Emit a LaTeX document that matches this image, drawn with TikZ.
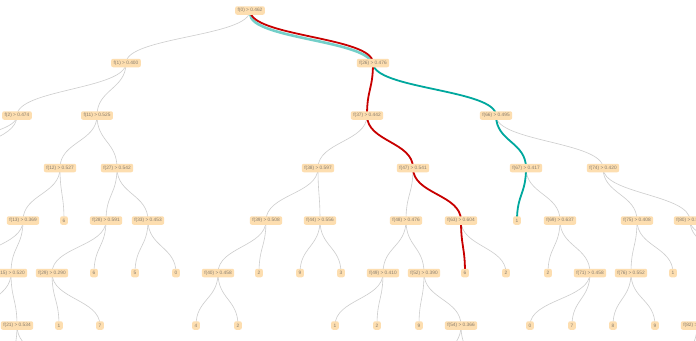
\documentclass[tikz,border=0pt]{standalone}
\usepackage{fontspec}
\setmainfont{Liberation Sans}
\usetikzlibrary{calc,backgrounds}
\definecolor{boxfill}{RGB}{253,222,176}
\definecolor{boxtext}{RGB}{135,125,112}
\definecolor{edgegray}{RGB}{205,205,205}
\definecolor{hired}{RGB}{200,0,0}
\definecolor{hiteal}{RGB}{0,168,158}
\tikzset{
  tn/.style={fill=boxfill, rounded corners=2pt, text=boxtext, font=\fontsize{4.8}{5}\selectfont,
    inner xsep=2.5pt, inner ysep=0pt, minimum height=8.5pt},
  edge/.style={draw=edgegray, line width=0.6pt},
  redpath/.style={draw=hired, line width=1.8pt},
  tealpath/.style={draw=hiteal, line width=1.8pt},
  tealglow/.style={draw=hiteal, line width=2.6pt, opacity=0.55}
}
\newcommand\lk[3][edge]{%
  \coordinate (mm) at ($(#2.center)!0.5!(#3.center)$);
  \draw[#1] (#2.center) .. controls (#2 |- mm) and (#3 |- mm) .. (#3.center);}
\begin{document}
\begin{tikzpicture}[x=1pt,y=-1pt]
\useasboundingbox (0,0) rectangle (696,340);
% row 0
\node[tn] (n0) at (250,10.5) {f(0) > 0.462};
% row 1
\node[tn] (n1) at (126,63) {f(1) > 0.400};
\node[tn] (n26) at (373,63) {f(26) > 0.476};
% row 2
\node[tn] (n2) at (17,115.5) {f(2) > 0.474};
\node[tn] (n11) at (97,115.5) {f(11) > 0.525};
\node[tn] (n37) at (367,115.5) {f(37) > 0.442};
\node[tn] (n66) at (496,115.5) {f(66) > 0.495};
% row 3
\node[tn] (n12) at (60,168) {f(12) > 0.527};
\node[tn] (n27) at (117,168) {f(27) > 0.542};
\node[tn] (n38) at (318,168) {f(38) > 0.597};
\node[tn] (n47) at (413,168) {f(47) > 0.541};
\node[tn] (n67) at (526,168) {f(67) > 0.417};
\node[tn] (n74) at (603,168) {f(74) > 0.420};
% row 4
\node[tn] (n13) at (23,220.5) {f(13) > 0.369};
\node[tn] (la) at (64,220.5) {6};
\node[tn] (n28) at (106,220.5) {f(28) > 0.591};
\node[tn] (n33) at (148,220.5) {f(33) > 0.453};
\node[tn] (n39) at (266,220.5) {f(39) > 0.508};
\node[tn] (n44) at (320,220.5) {f(44) > 0.556};
\node[tn] (n48) at (406,220.5) {f(48) > 0.476};
\node[tn] (n63) at (461,220.5) {f(63) > 0.604};
\node[tn] (lb) at (517,220.5) {1};
\node[tn] (n69) at (560,220.5) {f(69) > 0.637};
\node[tn] (n75) at (637,220.5) {f(75) > 0.408};
\node[tn] (n80) at (690,220.5) {f(80) > 0.512};
% row 5
\node[tn] (n15) at (11,273) {f(15) > 0.520};
\node[tn] (n29) at (52,273) {f(29) > 0.290};
\node[tn] (lc) at (94,273) {6};
\node[tn] (ld) at (135,273) {5};
\node[tn] (le) at (176,273) {0};
\node[tn] (n40) at (218,273) {f(40) > 0.458};
\node[tn] (lf) at (259,273) {2};
\node[tn] (lg) at (300,273) {9};
\node[tn] (lh) at (341,273) {3};
\node[tn] (n49) at (383,273) {f(49) > 0.410};
\node[tn] (n52) at (424,273) {f(52) > 0.390};
\node[tn] (li) at (465,273) {6};
\node[tn] (lj) at (506,273) {2};
\node[tn] (lk) at (548,273) {2};
\node[tn] (n71) at (590,273) {f(71) > 0.458};
\node[tn] (n76) at (631,273) {f(76) > 0.552};
\node[tn] (ll) at (673,273) {1};
% row 6
\node[tn] (n21) at (17,325.5) {f(21) > 0.534};
\node[tn] (lm) at (59,325.5) {1};
\node[tn] (ln) at (100,325.5) {7};
\node[tn] (lo) at (196,325.5) {4};
\node[tn] (lp) at (238,325.5) {2};
\node[tn] (lq) at (335,325.5) {1};
\node[tn] (lr) at (377,325.5) {2};
\node[tn] (ls) at (419,325.5) {9};
\node[tn] (n54) at (461,325.5) {f(54) > 0.366};
\node[tn] (lt) at (530,325.5) {0};
\node[tn] (lu) at (572,325.5) {7};
\node[tn] (lv) at (613,325.5) {8};
\node[tn] (lw) at (655,325.5) {9};
\node[tn] (n82) at (697,325.5) {f(82) > 0.501};
% off-frame ends
\coordinate (c2a) at (-120,168);
\coordinate (c2b) at (-40,168);
\coordinate (c13) at (-30,273);
\coordinate (c15) at (-25,325.5);
\coordinate (c21a) at (10,378);
\coordinate (c21b) at (51,378);
\coordinate (c54a) at (433,378);
\coordinate (c54b) at (475,378);
\coordinate (c80a) at (728,273);
\coordinate (c80b) at (795,273);
\coordinate (c82a) at (680,378);
\coordinate (c82b) at (720,378);
\begin{pgfonlayer}{background}
\fill[white] (0,0) rectangle (696,340);
\lk{n0}{n1}\lk{n0}{n26}
\lk{n1}{n2}\lk{n1}{n11}
\lk{n26}{n37}\lk{n26}{n66}
\lk{n2}{c2a}\lk{n2}{c2b}
\lk{n11}{n12}\lk{n11}{n27}
\lk{n12}{n13}\lk{n12}{la}
\lk{n13}{c13}\lk{n13}{n15}
\lk{n15}{c15}\lk{n15}{n21}
\lk{n21}{c21a}\lk{n21}{c21b}
\lk{n27}{n28}\lk{n27}{n33}
\lk{n28}{n29}\lk{n28}{lc}
\lk{n29}{lm}\lk{n29}{ln}
\lk{n33}{ld}\lk{n33}{le}
\lk{n37}{n38}\lk{n37}{n47}
\lk{n38}{n39}\lk{n38}{n44}
\lk{n39}{n40}\lk{n39}{lf}
\lk{n40}{lo}\lk{n40}{lp}
\lk{n44}{lg}\lk{n44}{lh}
\lk{n47}{n48}\lk{n47}{n63}
\lk{n48}{n49}\lk{n48}{n52}
\lk{n49}{lq}\lk{n49}{lr}
\lk{n52}{ls}\lk{n52}{n54}
\lk{n54}{c54a}\lk{n54}{c54b}
\lk{n63}{li}\lk{n63}{lj}
\lk{n66}{n67}\lk{n66}{n74}
\lk{n67}{lb}\lk{n67}{n69}
\lk{n69}{lk}\lk{n69}{n71}
\lk{n71}{lt}\lk{n71}{lu}
\lk{n74}{n75}\lk{n74}{n80}
\lk{n75}{n76}\lk{n75}{ll}
\lk{n76}{lv}\lk{n76}{lw}
\lk{n80}{c80a}\lk{n80}{c80b}
\lk{c80a}{n82}
\lk{n82}{c82a}\lk{n82}{c82b}
% highlighted paths
\begin{scope}[transform canvas={yshift=-3pt}]
\lk[tealglow]{n0}{n26}
\end{scope}
\lk[tealpath]{n26}{n66}
\lk[tealpath]{n66}{n67}
\lk[tealpath]{n67}{lb}
\lk[redpath]{n0}{n26}
\lk[redpath]{n26}{n37}
\lk[redpath]{n37}{n47}
\lk[redpath]{n47}{n63}
\lk[redpath]{n63}{li}
\end{pgfonlayer}
\end{tikzpicture}
\end{document}
